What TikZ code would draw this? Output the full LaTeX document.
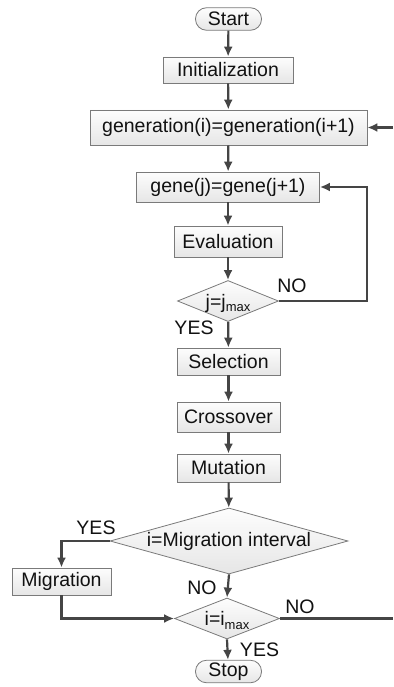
\documentclass[tikz,border=0pt]{standalone}
\usepackage{fontspec}
\setmainfont{Liberation Sans}
\usepackage{tikz}
\usetikzlibrary{shapes.geometric,arrows.meta}
\definecolor{flujoBorde}{HTML}{7a7a7a}
\definecolor{flujoFlecha}{HTML}{454545}
\definecolor{flujoFondoArriba}{HTML}{fdfdfd}
\definecolor{flujoFondoAbajo}{HTML}{e6e6e6}
\definecolor{flujoTexto}{HTML}{111111}

\begin{document}
\begin{tikzpicture}[
  x=1pt, y=-1pt,
  font=\fontsize{19.5}{22}\selectfont, text=flujoTexto,
  caja/.style={draw=flujoBorde, line width=0.8pt, top color=flujoFondoArriba, bottom color=flujoFondoAbajo, inner sep=0pt},
  terminal/.style={caja, rounded corners=11pt, minimum width=66pt, minimum height=22.5pt},
  rombo/.style={diamond, draw=flujoBorde, line width=0.8pt, top color=flujoFondoArriba, bottom color=flujoFondoAbajo, inner sep=0pt},
  flecha/.style={draw=flujoFlecha, line width=2.2pt, -{Latex[length=10pt,width=9pt]}},
  linea/.style={draw=flujoFlecha, line width=2.2pt},
  etiqueta/.style={inner sep=0pt},
]
  \useasboundingbox (0,0) rectangle (393,687);

  % Inicio y cajas principales
  \node[terminal] (inicio) at (228.5,19) {Start};
  \node[caja, minimum width=130pt, minimum height=26pt] (init) at (228,70) {Initialization};
  \node[caja, minimum width=277pt, minimum height=35pt] (gen) at (228.5,127.5) {generation(i)=generation(i+1)};
  \node[caja, minimum width=183pt, minimum height=30pt] (gene) at (228,187) {gene(j)=gene(j+1)};
  \node[caja, minimum width=108pt, minimum height=31pt] (eval) at (228,241.5) {Evaluation};

  % Decision j = jmax
  \node[rombo, minimum width=101pt, minimum height=41pt,
        label={[yshift=-2pt]center:j=j\raisebox{-0.35ex}{\fontsize{13}{13}\selectfont max}}] (rj) at (228,301) {};

  \node[caja, minimum width=103pt, minimum height=27pt] (sel) at (228.5,361.5) {Selection};
  \node[caja, minimum width=103pt, minimum height=30pt] (cruce) at (228.5,417) {Crossover};
  \node[caja, minimum width=103pt, minimum height=28pt] (mut) at (228.5,468) {Mutation};

  % Decision de migracion
  \node[rombo, minimum width=238pt, minimum height=66pt,
        label={center:i=Migration interval}] (rmig) at (229,541) {};
  \node[caja, minimum width=99pt, minimum height=27pt] (mig) at (61.5,581.5) {Migration};

  % Decision i = imax
  \node[rombo, minimum width=105pt, minimum height=41pt,
        label={[yshift=-2pt]center:i=i\raisebox{-0.35ex}{\fontsize{13}{13}\selectfont max}}] (ri) at (227,618.5) {};
  \node[terminal] (fin) at (228.5,671.5) {Stop};

  % Etiquetas SI / NO
  \node[etiqueta] (noJ) at (292,286) {NO};
  \node[etiqueta] (siJ) at (194,328) {YES};
  \node[etiqueta] (siMig) at (96,528) {YES};
  \node[etiqueta] (noMig) at (202,588) {NO};
  \node[etiqueta] (noI) at (300,607) {NO};
  \node[etiqueta] (siI) at (259.5,649.5) {YES};

  % Puntos de los bucles
  \coordinate (bucleJ) at (367,301);
  \coordinate (salidaI) at (393,618.5);
  \coordinate (entradaGen) at (393,127.5);

  % Flechas
  \draw[flecha] (inicio) -- (init);
  \draw[flecha] (init) -- (gen);
  \draw[flecha] (gen) -- (gene);
  \draw[flecha] (gene) -- (eval);
  \draw[flecha] (eval) -- (rj);
  \draw[flecha] (rj.east) -- (bucleJ) |- (gene.east);
  \draw[flecha] (rj) -- (sel);
  \draw[flecha] (sel) -- (cruce);
  \draw[flecha] (cruce) -- (mut);
  \draw[flecha] (mut) -- (rmig);
  \draw[flecha] (rmig.west) -| (mig.north);
  \draw[flecha] (mig.south) |- (ri.west);
  \draw[flecha] (rmig.south) -- (ri.north);
  \draw[linea] (ri.east) -- (salidaI);
  \draw[flecha] (entradaGen) -- (gen.east);
  \draw[flecha] (ri.south) -- (fin);
\end{tikzpicture}
\end{document}
